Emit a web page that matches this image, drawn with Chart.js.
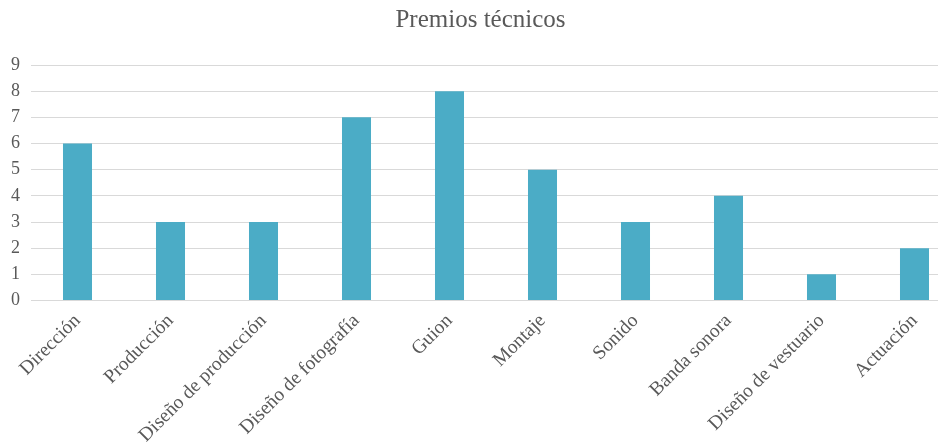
<!DOCTYPE html>
<html>
<head>
<meta charset="utf-8">
<script src="https://cdn.jsdelivr.net/npm/chart.js@4.4.0/dist/chart.umd.min.js"></script>
<style>
html,body{margin:0;padding:0;background:#fff;overflow:hidden;width:938px;height:446px;}
#wrap{width:962px;height:446px;}
</style>
</head>
<body>
<div id="wrap"><canvas id="c" width="962" height="446"></canvas></div>
<script>
const categories = ["Dirección","Producción","Diseño de producción","Diseño de fotografía","Guion","Montaje","Sonido","Banda sonora","Diseño de vestuario","Actuación"];
const values = [6,3,3,7,8,5,3,4,1,2];
const titleText = "Premios técnicos";

const FONT = "'Liberation Serif', 'DejaVu Serif', serif";
new Chart(document.getElementById('c'), {
  type: 'bar',
  data: {
    labels: categories,
    datasets: [{ data: values, backgroundColor: '#4BACC6', borderWidth: 0, categoryPercentage: 1, barPercentage: 0.312 }]
  },
  options: {
    responsive: false,
    animation: false,
    devicePixelRatio: 1,
    layout: { padding: { left: 0, right: 1, top: 0, bottom: 0 } },
    plugins: {
      legend: { display: false },
      tooltip: { enabled: false },
      title: {
        display: true, text: titleText, color: '#595959',
        font: { family: FONT, size: 25, weight: 'normal' },
        padding: { top: 5, bottom: 30 }
      }
    },
    scales: {
      x: {
        grid: { display: false, drawTicks: false },
        border: { display: false },
        ticks: { color: '#595959', font: { family: FONT, size: 19.5 }, minRotation: 45, maxRotation: 45, autoSkip: false, padding: 9 },
        afterFit: (s) => { s.height = 145.5; }
      },
      y: {
        min: 0, max: 9,
        grid: { color: '#d9d9d9', lineWidth: 1, drawTicks: false },
        border: { display: false },
        ticks: { stepSize: 1, color: '#595959', font: { family: FONT, size: 18 }, padding: 11 },
        afterFit: (s) => { s.width = 31; }
      }
    }
  }
});
</script>
</body>
</html>
